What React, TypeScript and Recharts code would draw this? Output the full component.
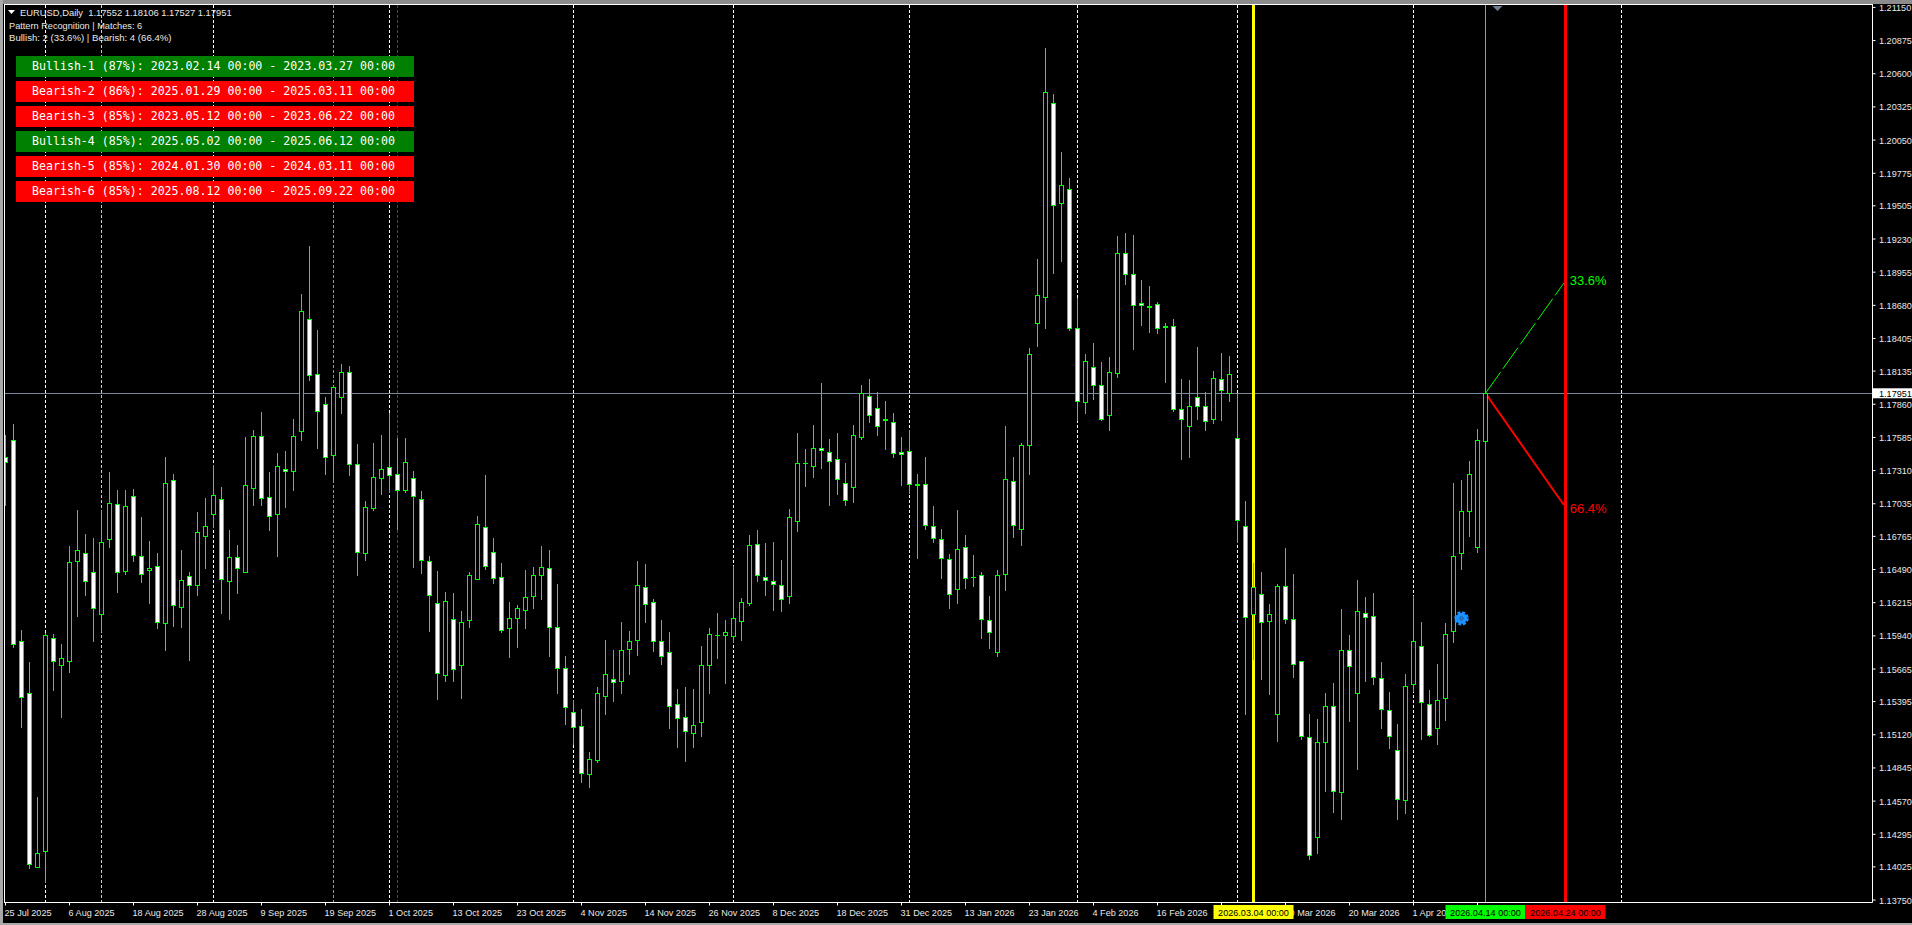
import React from 'react';
import { ComposedChart, Bar, XAxis, YAxis, ReferenceLine, ReferenceDot } from 'recharts';

// daily candles, oldest first, in 1/100000 of a dollar. first one is slot -1 (half hidden by the frame)
const opens = [
  117420, 117561, 115895, 115464, 114026, 114154, 115919, 115701, 115729, 116558,
  116624, 116467, 116118, 116740, 117030, 116475, 117097, 116599, 116483, 116516,
  116044, 117229, 116176, 116433, 116359, 116765, 116947, 117072, 116392, 116591,
  116467, 117163, 117594, 117088, 116947, 117320, 117304, 117636, 118564, 118108,
  117859, 117437, 117917, 118125, 117362, 116624, 116997, 117246, 117337, 117279,
  117146, 117246, 117072, 116558, 116210, 115613, 116077, 115696, 116069, 116409,
  116840, 116633, 116425, 116002, 116085, 116152, 116268, 116442, 116500, 116011,
  115671, 115306, 115190, 114792, 114908, 115439, 115580, 115563, 115828, 115903,
  116342, 116218, 115895, 115803, 115372, 115265, 115132, 115223, 115696, 115944,
  115944, 115936, 116061, 116210, 116699, 116425, 116392, 116359, 116268, 116889,
  117370, 117345, 117495, 117461, 117403, 117204, 117171, 117586, 117926, 117826,
  117735, 117710, 117461, 117470, 117196, 117196, 116848, 116740, 116574, 116326,
  116674, 116425, 116442, 116069, 115803, 116450, 117221, 116823, 117519, 118536,
  118746, 120355, 119531, 119642, 118489, 117876, 118166, 118017, 117768, 118116,
  119111, 118937, 118697, 118672, 118688, 118506, 118506, 117818, 117677, 117917,
  117843, 117735, 118067, 117951, 117577, 116848, 116118, 116284, 116060, 115290,
  116351, 116077, 115729, 115099, 114270, 115057, 115356, 114643, 115820, 115464,
  116127, 116102, 115588, 115323, 114991, 114577, 115538, 115853, 115372, 115174,
  115422, 115978, 116624, 116972, 116674, 117552,
];
const highs = [
  117605, 117696, 115988, 115723, 114604, 115966, 115955, 115872, 116685, 116983,
  116784, 116751, 116983, 117298, 117149, 117149, 117157, 116923, 116726, 116627,
  117422, 117282, 116651, 116469, 116964, 117083, 117356, 117174, 116817, 116693,
  117588, 117646, 117796, 117298, 117456, 117472, 117737, 118774, 119172, 118475,
  117920, 118005, 118193, 118177, 117530, 117058, 117539, 117606, 117785, 117580,
  117580, 117304, 117141, 116602, 116477, 116301, 116295, 116146, 116469, 116933,
  117273, 116751, 116544, 116220, 116196, 116486, 116508, 116685, 116651, 116370,
  115773, 115408, 115333, 114977, 115516, 115905, 115822, 116055, 115980, 116560,
  116535, 116245, 116071, 115972, 115499, 115516, 115499, 115856, 116005, 116129,
  116071, 116519, 116254, 116776, 116817, 116710, 116718, 116569, 116991, 117621,
  117489, 117688, 118036, 117572, 117621, 117373, 117688, 118019, 118069, 117961,
  117887, 117787, 117588, 117646, 117282, 117422, 117016, 116826, 116618, 116983,
  116776, 116610, 116467, 116270, 116486, 117679, 117422, 117539, 118326, 119064,
  120813, 120432, 119951, 119735, 118741, 118276, 118368, 118210, 118251, 119255,
  119279, 119263, 118890, 118840, 118707, 118533, 118566, 118069, 118061, 118334,
  117961, 118135, 118285, 118260, 117953, 117055, 116544, 116469, 116204, 116370,
  116668, 116453, 115729, 115292, 115250, 115466, 115549, 116162, 115947, 116403,
  116262, 116295, 115723, 115474, 115209, 115624, 116270, 116055, 115491, 115706,
  116046, 117207, 117232, 117389, 117655, 118106,
];
const lows = [
  117016, 115842, 115178, 114009, 114018, 113893, 115485, 115261, 115634, 116099,
  116270, 115891, 115974, 116668, 116298, 116444, 116554, 116380, 116204, 115999,
  115817, 116016, 116007, 115734, 116273, 116497, 116831, 116123, 116074, 116289,
  116467, 117019, 117019, 116809, 116596, 117000, 117141, 117555, 118053, 117489,
  117273, 117215, 117779, 117265, 116436, 116560, 116975, 117107, 117122, 116817,
  117124, 116502, 116453, 115972, 115408, 115557, 115557, 115416, 116005, 116405,
  116488, 116372, 115966, 115759, 115842, 115997, 116162, 116237, 115767, 115458,
  115201, 115035, 114722, 114678, 114888, 115284, 115391, 115458, 115615, 115773,
  116046, 115806, 115698, 115168, 115010, 114894, 115010, 115101, 115458, 115748,
  115541, 115881, 115897, 116187, 116386, 116270, 116146, 116138, 116204, 116801,
  117174, 117248, 117323, 117016, 117107, 117016, 117041, 117566, 117704, 117597,
  117480, 117414, 117182, 117116, 116577, 116817, 116710, 116411, 116162, 116204,
  116328, 116347, 115914, 115831, 115764, 116312, 116751, 116685, 117273, 118337,
  118486, 118940, 119039, 118469, 117723, 117779, 117895, 117721, 117638, 118077,
  118848, 118309, 118508, 118450, 118442, 118036, 117796, 117398, 117414, 117729,
  117638, 117696, 117721, 117878, 116707, 115284, 115740, 115574, 115449, 115060,
  116038, 115590, 115076, 114082, 114131, 114645, 114471, 114413, 115226, 114828,
  115557, 115532, 115168, 115002, 114413, 114463, 115477, 115076, 115101, 115035,
  115234, 115881, 116486, 116759, 116627, 117527,
];
const closes = [
  117381, 115870, 115435, 114051, 114137, 115944, 115734, 115754, 116550, 116649,
  116392, 116168, 116715, 117039, 116467, 117014, 116608, 116450, 116500, 116052,
  117204, 116193, 116400, 116359, 116798, 116848, 117105, 116409, 116591, 116500,
  117188, 117594, 117080, 116931, 117345, 117304, 117594, 118630, 118100, 117801,
  117420, 118000, 118125, 117362, 116632, 117005, 117254, 117320, 117271, 117146,
  117379, 117097, 116566, 116276, 115629, 116226, 115663, 116052, 116442, 116865,
  116516, 116417, 115986, 116085, 116168, 116259, 116442, 116508, 116011, 115671,
  115347, 115182, 114800, 114916, 115464, 115621, 115555, 115820, 115895, 116359,
  116201, 115895, 115770, 115356, 115256, 115148, 115198, 115696, 115953, 115944,
  115969, 116085, 116218, 116690, 116442, 116400, 116367, 116243, 116923, 117370,
  117370, 117495, 117478, 117387, 117238, 117064, 117602, 117951, 117768, 117677,
  117727, 117453, 117445, 117196, 117188, 116856, 116748, 116583, 116284, 116657,
  116417, 116425, 116077, 115969, 116442, 117238, 116856, 117519, 118274, 118763,
  120446, 119509, 119675, 118489, 117884, 118216, 118017, 117735, 118125, 119111,
  118937, 118680, 118680, 118663, 118489, 118498, 117818, 117735, 117843, 117843,
  117718, 118075, 117975, 118108, 116898, 116094, 116342, 116052, 116118, 116351,
  116077, 115704, 115107, 114121, 115057, 115356, 114651, 115820, 115687, 116143,
  116094, 115596, 115331, 115107, 114585, 115522, 115895, 115389, 115115, 115406,
  115953, 116599, 116972, 117279, 117561, 117951,
];

const priceTicks = [
  1.2115, 1.20875, 1.206, 1.20325, 1.2005, 1.19775, 1.19505, 1.1923, 1.18955, 1.1868,
  1.18405, 1.18135, 1.1786, 1.17585, 1.1731, 1.17035, 1.16765, 1.1649, 1.16215, 1.1594,
  1.15665, 1.15395, 1.1512, 1.14845, 1.1457, 1.14295, 1.14025, 1.1375,
];
const lastPrice = 1.17951;

// the two blank ones sit fully behind the time tags
const dateLabels = [
  '25 Jul 2025', '6 Aug 2025', '18 Aug 2025', '28 Aug 2025', '9 Sep 2025', '19 Sep 2025',
  '1 Oct 2025', '13 Oct 2025', '23 Oct 2025', '4 Nov 2025', '14 Nov 2025', '26 Nov 2025',
  '8 Dec 2025', '18 Dec 2025', '31 Dec 2025', '13 Jan 2026', '23 Jan 2026', '4 Feb 2026',
  '16 Feb 2026', '', '10 Mar 2026', '20 Mar 2026', '1 Apr 2026', '',
];
const dateSlots = dateLabels.map((_, i) => -1 + i * 8);

const whiteSeparators = [4, 25, 47, 70, 90, 112, 133, 153, 175, 201];
const goldSeparator = 11;
const limeSeparator = 40;
const redSeparator = 48;

const matchLabels = [
  'Bullish-1 (87%): 2023.02.14 00:00 - 2023.03.27 00:00',
  'Bearish-2 (86%): 2025.01.29 00:00 - 2025.03.11 00:00',
  'Bearish-3 (85%): 2023.05.12 00:00 - 2023.06.22 00:00',
  'Bullish-4 (85%): 2025.05.02 00:00 - 2025.06.12 00:00',
  'Bearish-5 (85%): 2024.01.30 00:00 - 2024.03.11 00:00',
  'Bearish-6 (85%): 2025.08.12 00:00 - 2025.09.22 00:00',
];

const rows = opens.map((open, i) => ({
  slot: i - 1,
  open: open / 100000,
  high: highs[i] / 100000,
  low: lows[i] / 100000,
  close: closes[i] / 100000,
}));

const LIME = '#00ff00';
const UI_FONT = '"Liberation Sans", sans-serif';
const AXIS_FONT_SIZE = 9.1;

// stacking: lines under the candles, candles over the axes, time tags over everything
const Z_LINES = 100;
const Z_CANDLES = 600;
const Z_TAGS = 3000;

const Candle = (props: any) => {
  const { x, y, width, height, payload } = props;
  const cx = Math.floor(x + width / 2) + 0.5;
  const perPrice = Math.abs(height) / (payload.high - payload.low);
  const yFor = (price: number) => y + (payload.high - price) * perPrice;
  const top = Math.round(yFor(Math.max(payload.open, payload.close)));
  const bottom = Math.round(yFor(Math.min(payload.open, payload.close)));
  const rising = payload.close > payload.open;
  return (
    <g shapeRendering="crispEdges">
      <line x1={cx} x2={cx} y1={Math.round(y)} y2={Math.round(y + Math.abs(height))} stroke={LIME} />
      {bottom - top < 1 ? (
        <line x1={cx - 2.5} x2={cx + 2.5} y1={top + 0.5} y2={top + 0.5} stroke={LIME} />
      ) : (
        <rect
          x={cx - 2}
          y={top + 0.5}
          width={4}
          height={bottom - top}
          fill={rising ? '#000' : '#fff'}
          stroke={LIME}
        />
      )}
    </g>
  );
};

// a vertical or horizontal line snapped to the pixel grid
const crispLine = (color: string, width: number, dash?: string) => (props: any) => {
  const { x1, y1, x2, y2 } = props;
  const vertical = Math.abs(x1 - x2) < 1;
  const px = Math.floor(x1) + 0.5;
  const py = Math.floor(y1) + 0.5;
  return (
    <line
      x1={vertical ? px : x1}
      x2={vertical ? px : x2}
      y1={vertical ? y1 : py}
      y2={vertical ? y2 : py}
      stroke={color}
      strokeWidth={width}
      strokeDasharray={dash}
      shapeRendering="crispEdges"
    />
  );
};

// the time tag sitting on the axis under a marker line
const timeTag = (color: string, tag: string) => (props: any) => {
  const px = Math.floor(props.x1) + 0.5;
  return (
    <g>
      <rect x={px - 40} y={905} width={80} height={14} fill={color} />
      <text x={px} y={915.5} textAnchor="middle" fontSize={AXIS_FONT_SIZE} fontFamily={UI_FONT} fill="#000">
        {tag}
      </text>
    </g>
  );
};

const PriceTick = (props: any) => {
  const { y, payload } = props;
  const isLast = payload.value === lastPrice;
  return (
    <g>
      {isLast && <rect x={1873} y={y - 5} width={39} height={10} fill="#fff" />}
      <text
        x={1879}
        y={y + 3.5}
        fontSize={AXIS_FONT_SIZE}
        fontFamily={UI_FONT}
        fill={isLast ? '#000' : '#e8e8e8'}
      >
        {payload.value.toFixed(5)}
      </text>
    </g>
  );
};

const DateTick = (props: any) => {
  const { x, index } = props;
  return (
    <text x={x - 1} y={915.5} fontSize={AXIS_FONT_SIZE} fontFamily={UI_FONT} fill="#e8e8e8">
      {dateLabels[index]}
    </text>
  );
};

const Gear = (props: any) => {
  const { cx, cy } = props;
  return (
    <g>
      <circle cx={cx} cy={cy} r={5.5} fill="#1e90ff" />
      <circle cx={cx} cy={cy} r={6} fill="none" stroke="#1e90ff" strokeWidth={2.5} strokeDasharray="3 1.7" />
      <circle cx={cx} cy={cy} r={1.6} fill="none" stroke="#0b4f96" />
    </g>
  );
};

const ShiftMark = (props: any) => {
  const { cx, cy } = props;
  return <path d={`M${cx - 5} ${cy + 1}h10l-5 5z`} fill="#708090" />;
};

const infoStyle: React.CSSProperties = {
  position: 'absolute',
  fontFamily: UI_FONT,
  color: '#e8e8e8',
  whiteSpace: 'pre',
  lineHeight: '12px',
};

export default function App() {
  return (
    <div style={{ position: 'absolute', left: 0, top: 0, width: 1912, height: 925, background: '#000', overflow: 'hidden' }}>
      <ComposedChart
        width={1912}
        height={925}
        data={rows}
        margin={{ top: 4.5, right: 0, bottom: 0, left: 4.5 }}
        style={{ position: 'absolute', left: 0, top: 0 }}
      >
        <XAxis
          dataKey="slot"
          type="number"
          domain={[-1.125, 232.375]}
          ticks={dateSlots}
          interval={0}
          height={22.5}
          stroke="#fff"
          tickSize={3}
          tick={<DateTick />}
          allowDataOverflow
        />
        <YAxis
          orientation="right"
          domain={[1.137296, 1.21174]}
          ticks={[...priceTicks, lastPrice]}
          interval={0}
          width={39.5}
          stroke="#fff"
          tickSize={3}
          tick={<PriceTick />}
          allowDataOverflow
        />

        <ReferenceLine y={lastPrice} shape={crispLine('#778899', 1)} zIndex={Z_LINES} />
        {whiteSeparators.map((slot) => (
          <ReferenceLine key={slot} x={slot} shape={crispLine('#fff', 1, '3 2')} zIndex={Z_LINES} />
        ))}
        <ReferenceLine x={goldSeparator} shape={crispLine('#ffd700', 1, '3 2')} zIndex={Z_LINES} />
        <ReferenceLine x={limeSeparator} shape={crispLine(LIME, 1, '3 2')} zIndex={Z_LINES} />
        <ReferenceLine x={redSeparator} shape={crispLine('#ff0000', 1, '3 2')} zIndex={Z_LINES} />

        <ReferenceLine x={155} shape={crispLine('#ffff00', 3)} zIndex={Z_LINES} />
        <ReferenceLine x={184} shape={crispLine(LIME, 1)} zIndex={Z_LINES} />
        <ReferenceLine x={194} shape={crispLine('#ff0000', 3)} zIndex={Z_LINES} />

        <ReferenceLine
          segment={[{ x: 184, y: lastPrice }, { x: 193.8, y: 1.18865 }]}
          stroke={LIME}
          strokeDasharray="26 4"
          zIndex={Z_LINES}
        />
        <ReferenceLine
          segment={[{ x: 184, y: lastPrice }, { x: 193.8, y: 1.17025 }]}
          stroke="#ff0000"
          strokeWidth={2}
          zIndex={Z_LINES}
        />
        <ReferenceDot
          x={193.9}
          y={1.18887}
          r={0}
          label={{ value: '33.6%', position: 'right', fill: LIME, fontSize: 13, fontFamily: UI_FONT }}
        />
        <ReferenceDot
          x={193.9}
          y={1.16995}
          r={0}
          label={{ value: '66.4%', position: 'right', fill: '#ff0000', fontSize: 13, fontFamily: UI_FONT }}
        />

        <Bar
          dataKey={(d: any) => [d.low, d.high]}
          barSize={5}
          shape={<Candle />}
          isAnimationActive={false}
          zIndex={Z_CANDLES}
        />

        <ReferenceLine x={155} shape={timeTag('#ffff00', '2026.03.04 00:00')} zIndex={Z_TAGS} />
        <ReferenceLine x={184} shape={timeTag(LIME, '2026.04.14 00:00')} zIndex={Z_TAGS} />
        <ReferenceLine x={194} shape={timeTag('#ff0000', '2026.04.24 00:00')} zIndex={Z_TAGS} />

        <ReferenceDot x={181} y={1.16085} r={6} shape={<Gear />} zIndex={Z_TAGS} />
        <ReferenceDot x={185.5} y={1.2117} r={0} shape={<ShiftMark />} zIndex={Z_TAGS} />
      </ComposedChart>

      {/* window edges */}
      <div style={{ position: 'absolute', left: 0, top: 0, width: 1912, height: 4, background: '#8c8c8c' }} />
      <div style={{ position: 'absolute', left: 0, top: 0, width: 3, height: 925, background: '#a8a8a8' }} />
      <div style={{ position: 'absolute', left: 3, top: 4, width: 1, height: 921, background: '#000' }} />
      <div style={{ position: 'absolute', left: 4, top: 4, width: 1, height: 899, background: '#fff' }} />
      <div style={{ position: 'absolute', left: 4, top: 4, width: 1869, height: 1, background: '#fff' }} />
      <div style={{ position: 'absolute', left: 0, top: 923, width: 1912, height: 2, background: '#a8a8a8' }} />

      {/* chart header */}
      <svg style={{ position: 'absolute', left: 8, top: 10 }} width={8} height={6}>
        <path d="M0 0h7l-3.5 4z" fill="#fff" />
      </svg>
      <div style={{ ...infoStyle, fontSize: 9.4, left: 20, top: 7 }}>EURUSD,Daily  1.17552 1.18106 1.17527 1.17951</div>
      <div style={{ ...infoStyle, fontSize: 9.2, left: 9, top: 20 }}>Pattern Recognition | Matches: 6</div>
      <div style={{ ...infoStyle, fontSize: 9.6, left: 9, top: 32 }}>Bullish: 2 (33.6%) | Bearish: 4 (66.4%)</div>

      {matchLabels.map((label, i) => (
        <div
          key={label}
          style={{
            position: 'absolute',
            left: 16,
            top: 56 + i * 25,
            width: 398,
            height: 21,
            paddingLeft: 16,
            boxSizing: 'border-box',
            background: label.startsWith('Bull') ? '#008000' : '#ff0000',
            color: '#fff',
            font: '11.6px/21px "DejaVu Sans Mono", monospace',
            whiteSpace: 'pre',
          }}
        >
          {label}
        </div>
      ))}
    </div>
  );
}
